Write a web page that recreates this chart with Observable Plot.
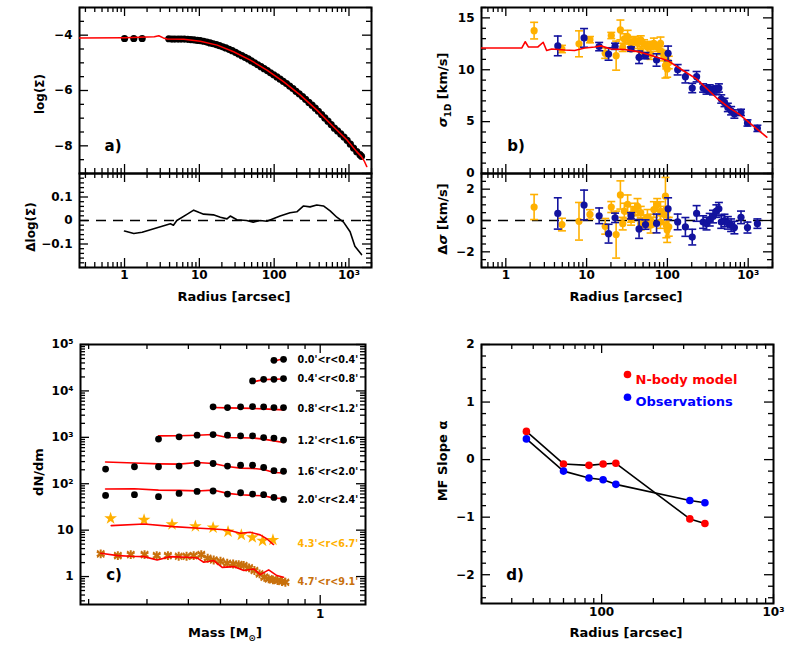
<!DOCTYPE html>
<html><head><meta charset="utf-8">
<script src="https://cdn.jsdelivr.net/npm/d3@7"></script>
<script src="https://cdn.jsdelivr.net/npm/@observablehq/plot@0.6"></script>
<style>
body{margin:0;background:#fff;}
#wrap{position:relative;width:789px;height:647px;overflow:hidden;background:#fff;}
#wrap svg{position:absolute;left:0;top:0;}
</style></head><body><div id="wrap"></div>
<script>
// ---------------- Panel a: surface density profile ----------------
const aObsR   = [1, 1.33, 1.72, 3.9, 4.3, 4.7, 5.2, 5.7, 6.3, 7.0, 7.7, 8.5, 9.4, 10.3, 11.4, 12.6, 13.9, 15.3, 16.9, 18.6, 20.5, 22.6, 25, 27.5, 30.4, 33.5, 37, 40.8, 45, 49.6, 54.7, 60.4, 66.6, 73.4, 81, 89.4, 98.6, 108.8, 120, 132, 146, 161, 178, 196, 216, 239, 263, 291, 321, 354, 390, 431, 475, 524, 578, 638, 704, 776, 857, 945, 1043, 1150, 1270, 1400, 1470];
const aObsLog = [-4.12, -4.12, -4.12, -4.13, -4.14, -4.14, -4.14, -4.14, -4.14, -4.15, -4.16, -4.17, -4.19, -4.2, -4.22, -4.25, -4.28, -4.31, -4.34, -4.38, -4.42, -4.46, -4.51, -4.56, -4.62, -4.68, -4.74, -4.8, -4.86, -4.93, -5.0, -5.07, -5.14, -5.21, -5.28, -5.36, -5.43, -5.51, -5.59, -5.67, -5.75, -5.84, -5.93, -6.03, -6.12, -6.22, -6.32, -6.43, -6.53, -6.64, -6.75, -6.87, -6.99, -7.11, -7.23, -7.36, -7.46, -7.57, -7.68, -7.8, -7.94, -8.08, -8.21, -8.32, -8.38];
const aModR   = [0.25, 1, 2.5, 2.87, 3.3, 3.7, 6.2, 10.3, 17.3, 28.7, 48, 80, 133, 222, 370, 615, 935, 1260, 1470, 1600, 1730];
const aModLog = [-4.1, -4.09, -4.06, -4.02, -4.1, -4.14, -4.15, -4.22, -4.36, -4.6, -4.9, -5.26, -5.68, -6.16, -6.7, -7.3, -7.78, -8.2, -8.39, -8.55, -8.75];
const aResR   = [1, 1.33, 1.72, 4.1, 4.5, 5.0, 6.9, 8.4, 9.8, 11.4, 15.4, 19.1, 23.4, 25.9, 31.8, 42.7, 52.5, 64.9, 80, 120, 163, 201, 247, 302, 371, 456, 560, 688, 846, 1035, 1200, 1470];
const aResD   = [-0.045, -0.055, -0.05, -0.014, -0.02, 0.0, 0.027, 0.044, 0.035, 0.027, 0.024, 0.014, 0.007, 0.019, 0.003, 0.0, -0.007, 0.0, -0.003, 0.019, 0.033, 0.037, 0.062, 0.058, 0.066, 0.062, 0.041, 0.014, -0.007, -0.048, -0.11, -0.145];

// ---------------- Panel b: velocity dispersion ----------------
const bModR = [0.5, 1.58, 1.74, 1.9, 2.5, 2.9, 3.2, 3.7, 5.4, 7.1, 9.5, 12.6, 15, 20, 29.5, 43, 62, 100, 158, 231, 405, 590, 780, 1030, 1480, 1700];
const bModV = [12.1, 12.1, 12.7, 12.2, 12.2, 12.65, 11.85, 12.0, 11.9, 11.85, 12.1, 12.2, 12.3, 12.0, 11.95, 11.75, 11.4, 10.9, 9.9, 9.1, 7.3, 6.3, 5.7, 4.9, 3.9, 3.5];
const bOrR  = [2.24, 4.95, 8.05, 11.0, 17.0, 20.2, 23.2, 26.2, 29.3, 32.2, 35.5, 39.6, 42.7, 46.8, 51.4, 56.6, 62, 68, 74.8, 82.2, 90.2, 94.6, 99.4, 104, 62, 46.8, 35.5, 28, 82, 97];
const bOrV  = [13.77, 12.0, 12.5, 12.9, 11.6, 13.3, 11.36, 13.84, 12.97, 13.2, 12.65, 12.8, 12.55, 12.87, 12.49, 12.16, 12.33, 12.55, 12.16, 12.55, 11.36, 10.4, 10.08, 10.7, 11.5, 11.84, 12.16, 12.16, 11.84, 10.88];
const bOrE  = [0.8, 0.35, 1.25, 0.3, 0.5, 0.3, 1.4, 0.95, 0.5, 0.6, 0.5, 0.4, 0.5, 0.4, 0.4, 0.5, 0.4, 0.5, 0.4, 0.6, 0.5, 1.2, 0.8, 0.6, 0.5, 0.4, 0.4, 0.4, 0.4, 0.8];
const bOrD  = [0.86, -0.26, -0.05, 0.39, -0.37, 0.86, -0.9, 1.63, 0.6, 1.03, 0.39, 0.7, 0.9, 0.5, -0.05, 0.2, 0.0, 0.7, 1.0, 0.6, 0.4, 1.55, -0.6, -0.4, -0.3, -0.2, 0.1, -0.2, -0.1, -0.3];
const bOrDE = [0.8, 0.4, 1.2, 0.3, 0.5, 0.35, 1.5, 0.9, 0.5, 0.6, 0.5, 0.4, 0.5, 0.4, 0.4, 0.5, 0.4, 0.5, 0.4, 0.6, 0.5, 1.2, 0.8, 0.6, 0.5, 0.4, 0.4, 0.4, 0.4, 0.8];
const bBlR  = [4.4, 9.3, 14.3, 18.7, 22.5, 35.5, 44.6, 53.6, 73.4, 102, 134, 167, 203, 230, 277, 305, 334, 367, 404, 434, 464, 509, 560, 615, 675, 815, 980, 1300];
const bBlV  = [12.3, 13.07, 12.23, 11.52, 12.26, 12.0, 11.2, 11.36, 10.94, 11.58, 10.0, 9.33, 8.24, 9.33, 8.24, 8.05, 8.15, 7.98, 8.05, 8.24, 7.18, 6.85, 6.37, 6.05, 5.73, 5.89, 4.87, 4.35];
const bBlE  = [0.95, 0.9, 0.4, 0.6, 0.3, 0.2, 0.6, 0.3, 0.6, 0.7, 0.5, 0.6, 0.45, 0.5, 0.4, 0.4, 0.4, 0.4, 0.4, 0.4, 0.4, 0.4, 0.4, 0.4, 0.4, 0.3, 0.3, 0.3];
const bBlD  = [0.45, 0.99, 0.3, -0.84, 0.17, 0.3, -0.54, -0.26, -0.19, 0.75, -0.09, -0.41, -1.06, 0.45, -0.1, -0.2, 0.05, 0.25, 0.6, 0.75, -0.1, 0.0, -0.15, -0.3, -0.45, 0.2, -0.45, -0.2];
const bBlDE = [1.0, 0.95, 0.5, 0.6, 0.3, 0.2, 0.6, 0.3, 0.6, 0.7, 0.5, 0.6, 0.5, 0.5, 0.4, 0.4, 0.4, 0.4, 0.4, 0.4, 0.4, 0.4, 0.4, 0.4, 0.4, 0.4, 0.35, 0.3];

// ---------------- Panel c: mass functions ----------------
const cMass   = [0.225, 0.275, 0.325, 0.375, 0.425, 0.475, 0.525, 0.575, 0.625, 0.675, 0.725, 0.775];
const cRowLabels = ["0.0'<r<0.4'", "0.4'<r<0.8'", "0.8'<r<1.2'", "1.2'<r<1.6'", "1.6'<r<2.0'", "2.0'<r<2.4'"];
const cRowStart  = [10, 8, 5, 2, 0, 0];   // index of first mass bin of each row
const cRowObs = [
  [45700, 48000],
  [16400, 17800, 17800, 18400, 18800],
  [4530, 4380, 4530, 4590, 4530, 4380, 4380],
  [915, 1025, 1115, 1148, 1115, 1077, 1077, 990, 961, 871],
  [207, 232, 232, 240, 273, 273, 240, 251, 251, 224, 191, 186],
  [56, 58, 52.5, 61.7, 68.2, 69.7, 60, 64, 60, 58, 50.7, 46]
];
const cRowMod = [
  [44200, 49500],
  [15600, 17500, 17800, 18000, 18500],
  [4380, 4300, 4250, 4200, 4100, 4000, 3900],
  [1075, 1080, 1110, 1150, 990, 980, 970, 915, 840, 773],
  [293, 280, 268, 264, 287, 273, 236, 217, 214, 203, 175, 170],
  [77, 78, 73, 72, 70, 73, 62, 58, 56, 55, 49, 48]
];
const cOrLabel = "4.3'<r<6.7'";
const cOrMass = [0.233, 0.294, 0.357, 0.42, 0.475, 0.527, 0.578, 0.624, 0.67, 0.72];
const cOrObs  = [17.9, 16.6, 13.3, 12.1, 11.3, 9.3, 7.9, 7.0, 5.9, 6.15];
const cOrModM = [0.234, 0.294, 0.361, 0.42, 0.477, 0.527, 0.574, 0.615, 0.659, 0.691, 0.723];
const cOrModV = [12.5, 13.6, 11.9, 11.1, 10.6, 10.1, 8.55, 9.0, 7.9, 6.45, 4.9];
const cBrLabel = "4.7'<r<9.1'";
const cBrMass = [0.2175, 0.245, 0.268, 0.295, 0.321, 0.347, 0.374, 0.395, 0.415, 0.4375, 0.4575, 0.477, 0.5, 0.524, 0.546, 0.5675, 0.5875, 0.61, 0.633, 0.656, 0.678, 0.699, 0.72, 0.7435, 0.767, 0.785];
const cBrObs  = [3.08, 2.83, 2.97, 2.97, 2.83, 2.83, 2.74, 2.74, 2.83, 2.97, 2.48, 2.28, 2.13, 1.93, 1.87, 1.81, 1.73, 1.54, 1.35, 1.14, 0.97, 0.89, 0.85, 0.82, 0.78, 0.755];
const cBrModM = [0.2175, 0.245, 0.268, 0.294, 0.322, 0.353, 0.397, 0.425, 0.445, 0.477, 0.506, 0.548, 0.588, 0.63, 0.659, 0.699, 0.74, 0.775];
const cBrModV = [3.18, 2.83, 2.74, 2.69, 2.28, 2.69, 2.6, 2.52, 2.03, 2.21, 1.58, 1.64, 1.35, 1.46, 1.10, 1.39, 1.05, 0.97];

// ---------------- Panel d: mass function slope ----------------
const dR     = [36.5, 60, 84.4, 102, 121, 326, 399];
const dModel = [0.49, -0.075, -0.10, -0.075, -0.064, -1.03, -1.11];
const dObs   = [0.36, -0.2, -0.32, -0.35, -0.43, -0.71, -0.75];
const dLegend = ["N-body model", "Observations"];

// ---------------- tick labels ----------------
const radTickVals = [1, 10, 100, 1000], radTickLabels = ["1", "10", "100", "10³"];
const aYVals = [-4, -6, -8], aYLabels = ["−4", "−6", "−8"];
const aRYVals = [0.1, 0, -0.1], aRYLabels = ["0.1", "0", "−0.1"];
const bYVals = [0, 5, 10, 15], bYLabels = ["0", "5", "10", "15"];
const bRYVals = [2, 0, -2], bRYLabels = ["2", "0", "−2"];
const cXVals = [1], cXLabels = ["1"];
const cYVals = [1, 10, 100, 1000, 10000, 100000], cYLabels = ["1", "10", "10²", "10³", "10⁴", "10⁵"];
const dXVals = [100, 1000], dXLabels = ["100", "10³"];
const dYVals = [2, 1, 0, -1, -2], dYLabels = ["2", "1", "0", "−1", "−2"];

// ---------------- colours ----------------
const RED = "#ff0000", ORANGE = "#ffb000", NAVY = "#12129e", BROWN = "#c8700c", BLUE = "#0000ff";
const FONT = "DejaVu Sans";
const W = 789, H = 647;
const wrap = document.getElementById("wrap");

function logTicks(lo, hi) {
  const major = [], minor = [];
  for (let e = -2; e <= 6; e++) for (let k = 1; k <= 9; k++) {
    const v = +(k * Math.pow(10, e)).toPrecision(6);
    if (v >= lo * 0.9999 && v <= hi * 1.0001) (k === 1 ? major : minor).push(v);
  }
  return {major, minor};
}
function linTicks(lo, hi, majorStep, minorStep) {
  const major = [], minor = [];
  const n = Math.round((hi - lo) / minorStep);
  for (let i = 0; i <= n; i++) {
    const v = +(lo + i * minorStep).toFixed(6);
    (Math.abs(v / majorStep - Math.round(v / majorStep)) < 1e-6 ? major : minor).push(v);
  }
  return {major, minor};
}
function boxMarks(fr, xt, yt) {
  const fw = fr[1] - fr[0], fh = fr[3] - fr[2];
  const out = [];
  for (const [vals, L] of [[xt.major, 9], [xt.minor, 5]]) {
    out.push(Plot.tickX(vals, {x: d => d, insetTop: fh - L, strokeWidth: 1.3}));
    out.push(Plot.tickX(vals, {x: d => d, insetBottom: fh - L, strokeWidth: 1.3}));
  }
  for (const [vals, L] of [[yt.major, 9], [yt.minor, 5]]) {
    out.push(Plot.tickY(vals, {y: d => d, insetRight: fw - L, strokeWidth: 1.3}));
    out.push(Plot.tickY(vals, {y: d => d, insetLeft: fw - L, strokeWidth: 1.3}));
  }
  out.push(Plot.frame({strokeWidth: 2}));
  return out;
}
function xLab(vals, labels, dy) {
  return Plot.text(vals.map((v, i) => ({v, t: labels[i]})),
    {x: "v", text: "t", frameAnchor: "bottom", dy, fontSize: 12, fontWeight: "bold", fontFamily: FONT});
}
function yLab(vals, labels) {
  return Plot.text(vals.map((v, i) => ({v, t: labels[i]})),
    {y: "v", text: "t", frameAnchor: "left", dx: -7, textAnchor: "end", fontSize: 12, fontWeight: "bold", fontFamily: FONT});
}
function panel(fr, xOpt, yOpt, marks) {
  const svg = Plot.plot({
    width: W, height: H,
    marginLeft: fr[0], marginRight: W - fr[1], marginTop: fr[2], marginBottom: H - fr[3],
    x: {...xOpt, axis: null}, y: {...yOpt, axis: null},
    style: {background: "transparent", overflow: "visible", fontFamily: FONT, color: "black"},
    marks
  });
  wrap.appendChild(svg);
}
const capSymbol = {draw(ctx, size) { const w = Math.sqrt(size / Math.PI); ctx.moveTo(-w, 0); ctx.lineTo(w, 0); }};
function errMarks(data, yk, ek, color) {
  return [
    Plot.ruleX(data, {x: "r", y1: d => d[yk] - d[ek], y2: d => d[yk] + d[ek], stroke: color, strokeWidth: 1.6, clip: true}),
    Plot.dot(data, {x: "r", y: d => d[yk] + d[ek], symbol: capSymbol, r: 4, stroke: color, fill: "none", strokeWidth: 1.6, clip: true}),
    Plot.dot(data, {x: "r", y: d => d[yk] - d[ek], symbol: capSymbol, r: 4, stroke: color, fill: "none", strokeWidth: 1.6, clip: true}),
    Plot.dot(data, {x: "r", y: yk, r: 3.6, fill: color, clip: true})
  ];
}

// frames [left, right, top, bottom] in pixels
const A1 = [79, 371, 7, 173], A2 = [79, 371, 173, 267];
const B1 = [481, 772, 7, 173], B2 = [481, 772, 173, 267];
const C = [80, 365, 344, 604], D = [481, 773, 344, 603];

// Panel a (top)
const aObs = aObsR.map((r, i) => ({r, y: aObsLog[i]}));
const aMod = aModR.map((r, i) => ({r, y: aModLog[i]}));
panel(A1, {type: "log", domain: [0.25, 2000]}, {domain: [-9, -3]}, [
  ...boxMarks(A1, logTicks(0.25, 2000), linTicks(-9, -3, 2, 0.5)),
  Plot.dot(aObs, {x: "r", y: "y", r: 3.6, fill: "black", clip: true}),
  Plot.line(aMod, {x: "r", y: "y", stroke: RED, strokeWidth: 1.5, clip: true}),
  yLab(aYVals, aYLabels)
]);
// Panel a (residual)
const aRes = aResR.map((r, i) => ({r, d: aResD[i]}));
panel(A2, {type: "log", domain: [0.25, 2000]}, {domain: [-0.2, 0.2]}, [
  ...boxMarks(A2, logTicks(0.25, 2000), linTicks(-0.2, 0.2, 0.1, 0.02)),
  Plot.ruleY([0], {strokeDasharray: "10,7", strokeWidth: 1.6}),
  Plot.line(aRes, {x: "r", y: "d", stroke: "black", strokeWidth: 1.6, clip: true}),
  yLab(aRYVals, aRYLabels),
  xLab(radTickVals, radTickLabels, 11)
]);

// Panel b (top)
const bMod = bModR.map((r, i) => ({r, v: bModV[i]}));
const bOr = bOrR.map((r, i) => ({r, v: bOrV[i], e: bOrE[i], d: bOrD[i], de: bOrDE[i]}));
const bBl = bBlR.map((r, i) => ({r, v: bBlV[i], e: bBlE[i], d: bBlD[i], de: bBlDE[i]}));
panel(B1, {type: "log", domain: [0.5, 2000]}, {domain: [0, 16]}, [
  ...boxMarks(B1, logTicks(0.5, 2000), linTicks(0, 16, 5, 1)),
  ...errMarks(bOr, "v", "e", ORANGE),
  ...errMarks(bBl, "v", "e", NAVY),
  Plot.line(bMod, {x: "r", y: "v", stroke: RED, strokeWidth: 1.6, clip: true}),
  yLab(bYVals, bYLabels)
]);
// Panel b (residual)
panel(B2, {type: "log", domain: [0.5, 2000]}, {domain: [-3, 3]}, [
  ...boxMarks(B2, logTicks(0.5, 2000), linTicks(-3, 3, 2, 0.5)),
  Plot.ruleY([0], {strokeDasharray: "10,7", strokeWidth: 1.6}),
  ...errMarks(bOr, "d", "de", ORANGE),
  ...errMarks(bBl, "d", "de", NAVY),
  yLab(bRYVals, bRYLabels),
  xLab(radTickVals, radTickLabels, 11)
]);

// Panel c
const LBLSIZE = 9.6;
const cMarks = [...boxMarks(C, logTicks(0.189, 1.37), logTicks(0.25, 1e5))];
cRowObs.forEach((row, k) => {
  const obs = row.map((v, i) => ({m: cMass[cRowStart[k] + i], v}));
  const mod = cRowMod[k].map((v, i) => ({m: cMass[cRowStart[k] + i], v}));
  cMarks.push(Plot.line(mod, {x: "m", y: "v", stroke: RED, strokeWidth: 1.6}));
  cMarks.push(Plot.dot(obs, {x: "m", y: "v", r: 3.4, fill: "black"}));
  cMarks.push(Plot.text([cRowLabels[k]], {text: d => d, y: () => row[row.length - 1], frameAnchor: "right", dx: -68, dy: 1, textAnchor: "start", fontSize: LBLSIZE, fontWeight: "bold", fontFamily: FONT, fill: "black"}));
});
const cOr = cOrMass.map((m, i) => ({m, v: cOrObs[i]}));
const cOrM = cOrModM.map((m, i) => ({m, v: cOrModV[i]}));
const cBr = cBrMass.map((m, i) => ({m, v: cBrObs[i]}));
const cBrM = cBrModM.map((m, i) => ({m, v: cBrModV[i]}));
cMarks.push(
  Plot.dot(cOr, {x: "m", y: "v", symbol: "star", r: 4, fill: ORANGE}),
  Plot.line(cOrM, {x: "m", y: "v", stroke: RED, strokeWidth: 1.6}),
  Plot.text([cOrLabel], {text: d => d, y: () => cOrObs[cOrObs.length - 1], frameAnchor: "right", dx: -68, dy: 4, textAnchor: "start", fontSize: LBLSIZE, fontWeight: "bold", fontFamily: FONT, fill: ORANGE}),
  Plot.dot(cBr, {x: "m", y: "v", symbol: "asterisk", r: 4.2, stroke: BROWN, strokeWidth: 2}),
  Plot.dot(cBr, {x: "m", y: "v", symbol: "times", r: 3.3, stroke: BROWN, strokeWidth: 1.5}),
  Plot.line(cBrM, {x: "m", y: "v", stroke: RED, strokeWidth: 1.6}),
  Plot.text([cBrLabel], {text: d => d, y: () => cBrObs[cBrObs.length - 1], frameAnchor: "right", dx: -68, textAnchor: "start", fontSize: LBLSIZE, fontWeight: "bold", fontFamily: FONT, fill: BROWN}),
  yLab(cYVals, cYLabels),
  xLab(cXVals, cXLabels, 13)
);
panel(C, {type: "log", domain: [0.189, 1.37]}, {type: "log", domain: [0.25, 1e5]}, cMarks);

// Panel d
const dM = dR.map((r, i) => ({r, a: dModel[i]}));
const dO = dR.map((r, i) => ({r, a: dObs[i]}));
const legendColors = [RED, BLUE];
const dMarks = [
  ...boxMarks(D, logTicks(20, 1000), linTicks(-2.4, 2, 1, 0.2)),
  Plot.line(dM, {x: "r", y: "a", stroke: "black", strokeWidth: 1.6}),
  Plot.line(dO, {x: "r", y: "a", stroke: "black", strokeWidth: 1.6}),
  Plot.dot(dM, {x: "r", y: "a", r: 3.8, fill: RED}),
  Plot.dot(dO, {x: "r", y: "a", r: 3.8, fill: BLUE}),
  yLab(dYVals, dYLabels),
  xLab(dXVals, dXLabels, 12)
];
dLegend.forEach((t, i) => {
  dMarks.push(Plot.dot([t], {frameAnchor: "top-left", dx: 146, dy: 30 + 22.7 * i, r: 3.8, fill: legendColors[i]}));
  dMarks.push(Plot.text([t], {text: d => d, frameAnchor: "top-left", dx: 154, dy: 30 + 22.7 * i, textAnchor: "start", fill: legendColors[i], fontSize: 13, fontWeight: "bold", fontFamily: FONT}));
});
panel(D, {type: "log", domain: [20, 1000]}, {domain: [-2.5, 2]}, dMarks);

// ---------------- titles (overlay) ----------------
const ov = d3.select(wrap).append("svg").attr("width", W).attr("height", H)
  .style("font-family", FONT).style("font-weight", "bold");
function title(x, y, rot, parts, size = 13) {
  const t = ov.append("text").attr("transform", `translate(${x},${y}) rotate(${rot})`)
    .attr("text-anchor", "middle").attr("dominant-baseline", "middle").attr("font-size", size);
  parts.forEach(p => {
    const s = t.append("tspan").text(p.t);
    if (p.sub) s.attr("baseline-shift", "sub").attr("font-size", size * 0.68);
    if (p.it) s.attr("font-style", "italic");
  });
}
title(234, 297, 0, [{t: "Radius [arcsec]"}]);
title(626, 297, 0, [{t: "Radius [arcsec]"}]);
title(225, 633, 0, [{t: "Mass [M"}, {t: "⊙", sub: true}, {t: "]"}]);
title(626, 633, 0, [{t: "Radius [arcsec]"}]);
title(40, 94, -90, [{t: "log(Σ)"}], 12);
title(31, 227, -90, [{t: "Δlog(Σ)"}], 12);
title(443, 90, -90, [{t: "σ", it: true}, {t: "1D", sub: true}, {t: " [km/s]"}]);
title(443, 219, -90, [{t: "Δ"}, {t: "σ", it: true}, {t: " [km/s]"}]);
title(39, 472, -90, [{t: "dN/dm"}]);
title(443, 461, -90, [{t: "MF Slope α"}]);
title(113, 146, 0, [{t: "a)"}], 15);
title(516, 146, 0, [{t: "b)"}], 15);
title(114, 575, 0, [{t: "c)"}], 15);
title(515, 575, 0, [{t: "d)"}], 15);
</script></body></html>
